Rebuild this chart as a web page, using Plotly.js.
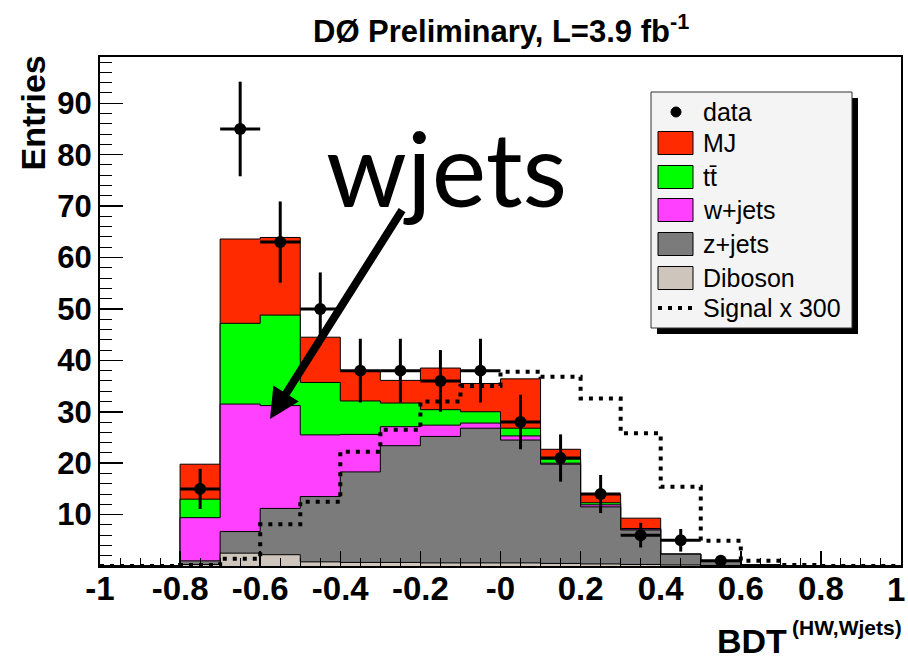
<!DOCTYPE html>
<html>
<head>
<meta charset="utf-8">
<script src="https://cdn.plot.ly/plotly-3.0.1.min.js"></script>
<style>html,body{margin:0;padding:0;background:#fff;}#chart{width:908px;height:662px;}</style>
</head>
<body>
<div id="chart"></div>
<script>
// ---- data ----
const edges = [-1,-0.9,-0.8,-0.7,-0.6,-0.5,-0.4,-0.3,-0.2,-0.1,0,0.1,0.2,0.3,0.4,0.5,0.6,0.7,0.8,0.9,1];
const diboson = [0,0,0.3,2.5,2.2,0.8,0.7,0.7,0.6,0.6,0.6,0.5,0.4,0.3,0.2,0.1,0.1,0,0,0];
const zjets   = [0,0,0.7,4.2,9.0,12.7,17.6,22.7,24.6,26.2,23.9,19.3,11.1,6.7,2.1,0.9,0.1,0,0,0];
const wjets   = [0,0,8.4,24.8,20.0,12.0,7.3,3.7,2.2,1.0,0.8,0.2,0.4,0.2,0,0,0,0,0,0];
const ttbar   = [0,0,3.6,15.7,17.6,10.2,6.5,4.6,3.0,2.2,1.5,0.8,0.4,0.1,0,0,0,0,0,0];
const mj      = [0,0,6.8,16.4,15.1,8.8,5.9,4.4,8.1,5.5,9.6,1.9,1.6,2.0,0,0,0,0,0,0];
const signal  = [0,0,0.2,1.4,8.1,12.5,22.2,26.5,32.0,35.0,37.8,36.8,32.6,25.8,15.4,4.9,1.0,0.2,0,0];
const dataX   = [-0.75,-0.65,-0.55,-0.45,-0.35,-0.25,-0.15,-0.05,0.05,0.15,0.25,0.35,0.45,0.55];
const dataY   = [15,85,63,50,38,38,36,38,28,21,14,6,5,1];
const dataErr = [3.9,9.2,7.9,7.1,6.2,6.2,6.0,6.2,5.3,4.6,3.7,2.4,2.2,1.0];
const xTickVals = [-1,-0.8,-0.6,-0.4,-0.2,0,0.2,0.4,0.6,0.8];
const xTickText = ["-1","-0.8","-0.6","-0.4","-0.2","-0","0.2","0.4","0.6","0.8"];
const xLastTick = "1";
const yTickVals = [10,20,30,40,50,60,70,80,90];
const legendLabels = ["data","MJ","t\u0074\u0304","w+jets","z+jets","Diboson","Signal x 300"];
const colMJ = "#ff2a00", colTT = "#00ff00", colW = "#ff40ff", colZ = "#7b7b7b", colDB = "#cec6bd";

// ---- build stacks ----
function add(a,b){return a.map((v,i)=>v+b[i]);}
const cDB = diboson.slice();
const cZ = add(cDB, zjets);
const cW = add(cZ, wjets);
const cT = add(cW, ttbar);
const cM = add(cT, mj);
function step(arr){return arr.concat([arr[arr.length-1]]);}
function histTrace(cum, color, name){
  return {x: edges, y: step(cum), type:'scatter', mode:'lines', name:name,
    line:{shape:'hv', color:'#000', width:1}, fill:'tozeroy', fillcolor:color,
    showlegend:false, hoverinfo:'skip'};
}
const traces = [
  histTrace(cM, colMJ, "MJ"),
  histTrace(cT, colTT, "tt"),
  histTrace(cW, colW, "w+jets"),
  histTrace(cZ, colZ, "z+jets"),
  histTrace(cDB, colDB, "Diboson"),
  {x: edges, y: step(signal), type:'scatter', mode:'lines', name:'Signal x 300',
   line:{shape:'hv', color:'#000', width:4, dash:'4px,6px'}, showlegend:false},
  {x: dataX, y: dataY, type:'scatter', mode:'markers', name:'data',
   marker:{color:'#000', size:12},
   error_y:{type:'data', array:dataErr, color:'#000', thickness:3, width:0},
   error_x:{type:'constant', value:0.05, color:'#000', thickness:3, width:0},
   showlegend:false}
];

// ---- layout helpers (pixel -> paper) ----
const L=100, R=7, T=57, B=96, W=908, H=662;
const PW = W-L-R, PH = H-T-B;
function px(x){return (x-L)/PW;}
function py(y){return (H-B-y)/PH;}

const FONT = "Liberation Sans, Arial, Helvetica, sans-serif";
const shapes = [];
const annotations = [];

// legend box with shadow
shapes.push({type:'rect', xref:'paper', yref:'paper', x0:px(657), x1:px(858), y0:py(334), y1:py(98), fillcolor:'#000', line:{width:0}});
shapes.push({type:'rect', xref:'paper', yref:'paper', x0:px(651), x1:px(852), y0:py(328), y1:py(92), fillcolor:'#f4f4f4', line:{color:'#333', width:1}});
const rowY = [112, 143, 177, 210, 244, 278, 308];
const swatchCols = [null, colMJ, colTT, colW, colZ, colDB, null];
for (let i=0;i<legendLabels.length;i++){
  const yc = rowY[i];
  if (swatchCols[i]) {
    shapes.push({type:'rect', xref:'paper', yref:'paper', x0:px(658), x1:px(693), y0:py(yc+11.5), y1:py(yc-11.5), fillcolor:swatchCols[i], line:{color:'#000', width:1}});
  }
  annotations.push({xref:'paper', yref:'paper', x:px(701), y:py(yc), xanchor:'left', yanchor:'middle', showarrow:false,
    text:legendLabels[i], font:{family:FONT, size:25, color:'#000'}});
}
shapes.push({type:'circle', xref:'paper', yref:'paper', x0:px(671), x1:px(681), y0:py(117), y1:py(107), fillcolor:'#000', line:{color:'#000', width:1}});
shapes.push({type:'line', xref:'paper', yref:'paper', x0:px(658), x1:px(693), y0:py(308), y1:py(308), line:{color:'#000', width:4, dash:'4px,6px'}});

// last x tick label (kept inside the canvas)
annotations.push({xref:'paper', yref:'paper', x:px(907), y:py(589), xanchor:'right', yanchor:'middle', showarrow:false,
  text:xLastTick, font:{family:FONT, size:33, color:'#000', weight:'bold'}});
// title
annotations.push({xref:'paper', yref:'paper', x:px(501), y:py(29), xanchor:'center', yanchor:'middle', showarrow:false,
  text:'DØ Preliminary, L=3.9 fb<sup>-1</sup>', font:{family:FONT, size:31, color:'#000', weight:'bold'}});
// y title
annotations.push({xref:'paper', yref:'paper', x:px(32), y:py(54), xanchor:'center', yanchor:'top', textangle:-90, showarrow:false,
  text:'Entries', font:{family:FONT, size:34, color:'#000', weight:'bold'}});
// x title
annotations.push({xref:'paper', yref:'paper', x:px(789), y:py(641), xanchor:'right', yanchor:'middle', showarrow:false,
  text:'BDT', font:{family:FONT, size:34, color:'#000', weight:'bold'}});
annotations.push({xref:'paper', yref:'paper', x:px(904), y:py(627), xanchor:'right', yanchor:'middle', showarrow:false,
  text:'(HW,Wjets)', font:{family:FONT, size:21, color:'#000', weight:'bold'}});
// wjets label and arrow
annotations.push({xref:'x', yref:'y', x:-0.136, y:77.6, xanchor:'center', yanchor:'middle', showarrow:false,
  text:'wjets', font:{family:'Lato, sans-serif', size:103, color:'#000'}});
annotations.push({xref:'x', yref:'y', x:-0.5755, y:28.6, axref:'x', ayref:'y', ax:-0.2434, ay:69.5,
  text:'', showarrow:true, arrowhead:2, arrowsize:0.75, arrowwidth:8, arrowcolor:'#000', standoff:0});

const layout = {
  width:W, height:H, margin:{l:L, r:R, t:T, b:B},
  paper_bgcolor:'#fff', plot_bgcolor:'#fff', showlegend:false,
  xaxis:{range:[-1,1], showgrid:false, zeroline:false, showline:true, linecolor:'#000', linewidth:2, mirror:true,
    ticks:'inside', ticklen:15, tickwidth:1.5, tickcolor:'#000', tickvals:xTickVals, ticktext:xTickText,
    ticklabeloverflow:'allow', ticklabelstandoff:-8,
    tickfont:{family:FONT, size:33, color:'#000', weight:'bold'},
    minor:{dtick:0.05, ticks:'inside', ticklen:8, tickwidth:1, tickcolor:'#000', showgrid:false}},
  yaxis:{range:[0,99], showgrid:false, zeroline:false, showline:true, linecolor:'#000', linewidth:2, mirror:true,
    ticks:'inside', ticklen:23, tickwidth:1.5, tickcolor:'#000', tickvals:yTickVals,
    tickfont:{family:FONT, size:31, color:'#000', weight:'bold'},
    minor:{dtick:2, ticks:'inside', ticklen:12, tickwidth:1, tickcolor:'#000', showgrid:false}},
  shapes:shapes, annotations:annotations
};
Plotly.newPlot('chart', traces, layout, {staticPlot:true, displayModeBar:false});
</script>
</body>
</html>
